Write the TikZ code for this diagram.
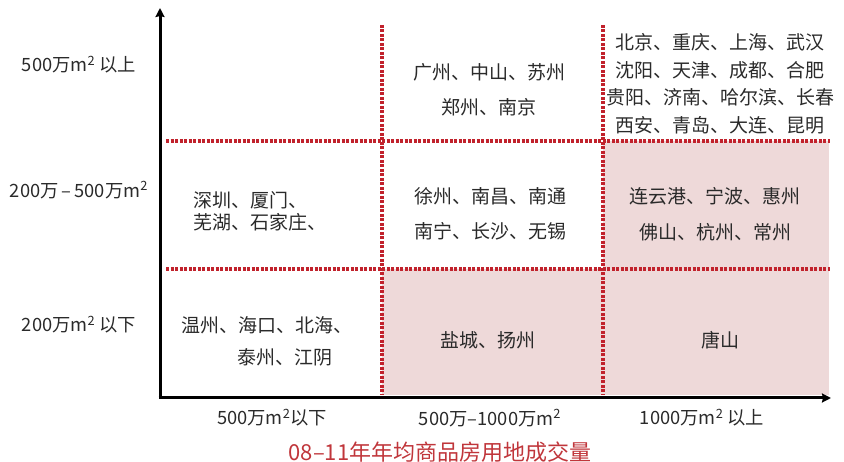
\documentclass[tikz,border=0pt]{standalone}
\usepackage{fontspec}
\setmainfont{Noto Sans CJK SC}
\usetikzlibrary{arrows.meta}
\definecolor{dotred}{HTML}{C1222C}
\definecolor{cellpink}{HTML}{EED9D9}
\definecolor{titlered}{HTML}{C0363B}
\definecolor{txt}{HTML}{2A2A2A}
\newcommand{\sqm}{m\textsuperscript{2}}
\tikzset{
  axis/.style={line width=3pt, -{Stealth[length=9pt,width=9pt,inset=1pt]}, black},
  grid/.style={dotred, line width=3.4pt, dash pattern=on 3pt off 1.5pt},
  cell/.style={font=\fontsize{19}{22}\selectfont, text=txt, inner sep=0pt, align=center},
  axlabel/.style={font=\fontsize{18.3}{20}\selectfont, text=txt, inner sep=0pt},
  titlestyle/.style={font=\fontsize{22}{24}\selectfont, text=titlered, inner sep=0pt}
}
\begin{document}
\begin{tikzpicture}[x=1pt,y=-1pt]
\useasboundingbox (0,0) rectangle (844,462);
% shaded cells
\fill[cellpink] (603,141) rectangle (829,395);
\fill[cellpink] (382,269) rectangle (603,395);
% grid
\coordinate (v1t) at (382,25); \coordinate (v1b) at (382,395);
\coordinate (v2t) at (603,25); \coordinate (v2b) at (603,395);
\coordinate (h1l) at (166,141); \coordinate (h1r) at (830,141);
\coordinate (h2l) at (166,269); \coordinate (h2r) at (830,269);
\draw[grid] (v1t) -- (v1b);
\draw[grid] (v2t) -- (v2b);
\draw[grid] (h1l) -- (h1r);
\draw[grid] (h2l) -- (h2r);
% axes
\coordinate (origin) at (160,398);
\coordinate (ytip) at (160,8);
\coordinate (xtip) at (831,398);
\draw[axis] (origin) -- (ytip);
\draw[axis] ([xshift=-1.5pt]origin) -- (xtip);
% y labels
\node[axlabel] (y3) at (79,65) {500万\sqm{} 以上};
\node[axlabel] (y2) at (79,190) {200万\,–\,500万\sqm};
\node[axlabel] (y1) at (79,325) {200万\sqm{} 以下};
% x labels
\node[axlabel] (x1) at (272,418) {500万\sqm 以下};
\node[axlabel] (x2) at (490,418) {500万–1000万\sqm};
\node[axlabel] (x3) at (702,418) {1000万\sqm{} 以上};
% title
\node[titlestyle] (title) at (440,452) {08–11年年均商品房用地成交量};
% cells
\node[cell, font=\fontsize{19}{35}\selectfont] (c21) at (489,90) {广州、中山、苏州\\郑州、南京};
\node[cell, font=\fontsize{19}{27.5}\selectfont] (c31) at (720,84) {北京、重庆、上海、武汉\\沈阳、天津、成都、合肥\\贵阳、济南、哈尔滨、长春\\西安、青岛、大连、昆明};
\node[cell, align=left, anchor=west, font=\fontsize{19}{22}\selectfont] (c12) at (193,211) {深圳、厦门、\\芜湖、石家庄、};
\node[cell, font=\fontsize{19}{35}\selectfont] (c22) at (490,214) {徐州、南昌、南通\\南宁、长沙、无锡};
\node[cell, font=\fontsize{19}{36}\selectfont] (c32) at (715,214) {连云港、宁波、惠州\\佛山、杭州、常州};
\node[cell] (c13a) at (267,325) {温州、海口、北海、};
\node[cell] (c13b) at (285,357) {泰州、江阴};
\node[cell] (c23) at (488,340) {盐城、扬州};
\node[cell] (c33) at (720,340) {唐山};
\end{tikzpicture}
\end{document}
